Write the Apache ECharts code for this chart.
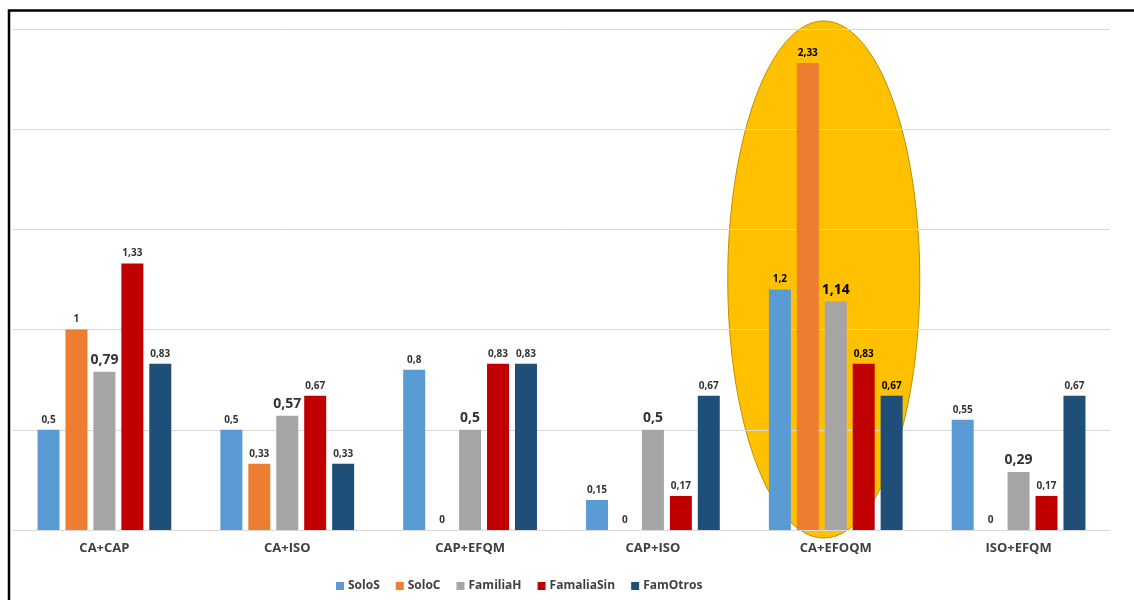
<!DOCTYPE html>
<html>
<head>
<meta charset="utf-8">
<script src="https://cdn.jsdelivr.net/npm/echarts@6/dist/echarts.min.js"></script>
<style>
  html, body { margin: 0; padding: 0; background: #fff; }
  #chart { width: 1134px; height: 600px; }
</style>
</head>
<body>
<div id="chart"></div>
<script>
// Combinations of management systems
const categories = ['CA+CAP', 'CA+ISO', 'CAP+EFQM', 'CAP+ISO', 'CA+EFOQM', 'ISO+EFQM'];

const soloS      = [0.5, 0.5, 0.8, 0.15, 1.2, 0.55];
const soloC      = [1, 0.33, 0, 0, 2.33, 0];
const familiaH   = [0.79, 0.57, 0.5, 0.5, 1.14, 0.29];
const famaliaSin = [1.33, 0.67, 0.83, 0.17, 0.83, 0.17];
const famOtros   = [0.83, 0.33, 0.83, 0.67, 0.67, 0.67];

const seriesNames = ['SoloS', 'SoloC', 'FamiliaH', 'FamaliaSin', 'FamOtros'];
const seriesData = [soloS, soloC, familiaH, famaliaSin, famOtros];
const colors = ['#5B9BD5', '#ED7D31', '#A5A5A5', '#C00000', '#1F4E79'];

// Highlighted group, and the vertical extent of its ellipse in axis units
const highlighted = 'CA+EFOQM';
const highlightSpan = [-0.04, 2.54];

const FONT = '"Open Sans", Lato, sans-serif';
const fmt = v => String(v).replace('.', ',');

const chart = echarts.init(document.getElementById('chart'), null, { renderer: 'canvas' });

const barSeries = seriesNames.map((name, si) => ({
  name: name,
  type: 'bar',
  barWidth: 22,
  barGap: '27%',
  z: 5,
  itemStyle: { color: colors[si] },
  data: seriesData[si].map((v, ci) => ({
    value: v,
    label: categories[ci] === highlighted ? { color: '#000' } : undefined
  })),
  label: {
    show: true,
    position: 'top',
    distance: 5,
    fontFamily: FONT,
    fontWeight: 'bold',
    fontSize: name === 'FamiliaH' ? 14 : 10,
    color: '#333',
    formatter: p => fmt(p.value)
  }
}));

// Yellow ellipse drawn under the grid lines and bars
const highlightSeries = {
  name: 'highlight',
  type: 'custom',
  z: 1,
  silent: true,
  data: [[highlighted, highlightSpan[0], highlightSpan[1]]],
  renderItem: (params, api) => {
    const bottom = api.coord([api.value(0), api.value(1)]);
    const top = api.coord([api.value(0), api.value(2)]);
    return {
      type: 'ellipse',
      shape: {
        cx: bottom[0] - 12,
        cy: (top[1] + bottom[1]) / 2,
        rx: 96,
        ry: (bottom[1] - top[1]) / 2
      },
      style: { fill: '#FFC000', stroke: '#BF9000', lineWidth: 1 }
    };
  }
};

chart.setOption({
  backgroundColor: '#fff',
  animation: false,
  textStyle: { fontFamily: FONT },
  grid: { left: 13, right: 24, top: 29, bottom: 70, containLabel: false },
  legend: {
    data: seriesNames,
    left: 331,
    top: 575,
    itemWidth: 8,
    itemHeight: 8,
    itemGap: 16,
    icon: 'rect',
    textStyle: { fontFamily: FONT, fontWeight: 'bold', fontSize: 12, color: '#404040', padding: [0, 0, 0, -1] }
  },
  xAxis: {
    type: 'category',
    z: 3,
    data: categories,
    axisLine: { lineStyle: { color: '#D9D9D9', width: 1 } },
    axisTick: { show: false },
    axisLabel: { fontFamily: FONT, fontWeight: 'bold', fontSize: 13, color: '#404040', margin: 12 }
  },
  yAxis: {
    type: 'value',
    z: 3,
    min: 0,
    max: 2.5,
    interval: 0.5,
    axisLabel: { show: false },
    axisLine: { show: false },
    axisTick: { show: false },
    splitLine: { lineStyle: { color: '#D9D9D9', width: 1 } }
  },
  graphic: [
    {
      id: 'frame',
      type: 'rect',
      z: 100,
      silent: true,
      shape: { x: 9, y: 10.5, width: 1300, height: 800 },
      style: { fill: 'none', stroke: '#000', lineWidth: 2.5 }
    }
  ],
  series: [highlightSeries].concat(barSeries)
});
</script>
</body>
</html>
